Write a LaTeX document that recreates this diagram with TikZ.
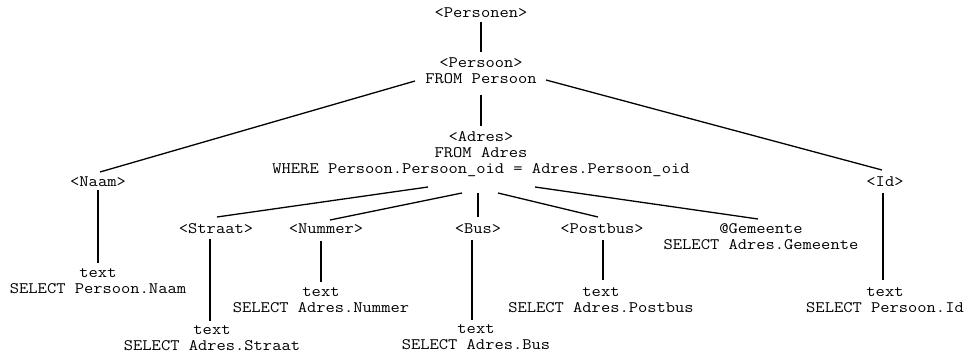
\documentclass[tikz,border=0pt]{standalone}
\usepackage{fontspec}
\setmonofont[FakeStretch=1.125]{Latin Modern Mono}
\begin{document}
\begin{tikzpicture}[x=1pt,y=1pt,
  lbl/.style={inner sep=0pt,align=center,font=\ttfamily\fontsize{16}{16}\selectfont},
  edge/.style={line width=1.3pt,black}]
\useasboundingbox (0,0) rectangle (967,356);
% nodes (y = 356 - image y)
\node[lbl] (personen) at (481,343) {<Personen>};
\node[lbl] (persoon) at (481,285.5) {<Persoon>\\FROM Persoon};
\node[lbl] (adres) at (481,202) {<Adres>\\FROM Adres\\WHERE Persoon.Persoon\_oid = Adres.Persoon\_oid};
\node[lbl] (naam) at (98,174) {<Naam>};
\node[lbl] (id) at (885,174) {<Id>};
\node[lbl] (straat) at (216,127) {<Straat>};
\node[lbl] (nummer) at (326,127) {<Nummer>};
\node[lbl] (bus) at (478,127) {<Bus>};
\node[lbl] (postbus) at (602,127) {<Postbus>};
\node[lbl] (gemeente) at (761,119) {@Gemeente\\SELECT Adres.Gemeente};
\node[lbl] (naamtext) at (98,74.5) {text\\SELECT Persoon.Naam};
\node[lbl] (straattext) at (212,18) {text\\SELECT Adres.Straat};
\node[lbl] (nummertext) at (321,55.5) {text\\SELECT Adres.Nummer};
\node[lbl] (bustext) at (476,18.5) {text\\SELECT Adres.Bus};
\node[lbl] (postbustext) at (601,55.5) {text\\SELECT Adres.Postbus};
\node[lbl] (idtext) at (885,55.5) {text\\SELECT Persoon.Id};
% edges
\draw[edge] ([shift={(0pt,-9pt)}]personen.center) -- ([shift={(0pt,18.5pt)}]persoon.center);
\draw[edge] ([shift={(-66pt,-10.5pt)}]persoon.center) -- ([shift={(2pt,10pt)}]naam.center);
\draw[edge] ([shift={(0pt,-24.5pt)}]persoon.center) -- ([shift={(0pt,28pt)}]adres.center);
\draw[edge] ([shift={(65pt,-9.5pt)}]persoon.center) -- ([shift={(-3pt,12pt)}]id.center);
\draw[edge] ([shift={(0pt,-8pt)}]naam.center) -- ([shift={(0pt,18.5pt)}]naamtext.center);
\draw[edge] ([shift={(-2pt,-11pt)}]id.center) -- ([shift={(-2pt,20.5pt)}]idtext.center);
\draw[edge] ([shift={(-53pt,-33pt)}]adres.center) -- ([shift={(1pt,12pt)}]straat.center);
\draw[edge] ([shift={(-19pt,-39pt)}]adres.center) -- ([shift={(4pt,9pt)}]nummer.center);
\draw[edge] ([shift={(-3pt,-39pt)}]adres.center) -- ([shift={(0pt,12pt)}]bus.center);
\draw[edge] ([shift={(17pt,-39pt)}]adres.center) -- ([shift={(-4pt,12pt)}]postbus.center);
\draw[edge] ([shift={(54pt,-33pt)}]adres.center) -- ([shift={(-3pt,18pt)}]gemeente.center);
\draw[edge] ([shift={(-6pt,-10pt)}]straat.center) -- ([shift={(-2pt,17pt)}]straattext.center);
\draw[edge] ([shift={(-5pt,-12pt)}]nummer.center) -- ([shift={(0pt,18.5pt)}]nummertext.center);
\draw[edge] ([shift={(-6pt,-11pt)}]bus.center) -- ([shift={(-4pt,17.5pt)}]bustext.center);
\draw[edge] ([shift={(1pt,-11pt)}]postbus.center) -- ([shift={(2pt,20.5pt)}]postbustext.center);
\end{tikzpicture}
\end{document}
